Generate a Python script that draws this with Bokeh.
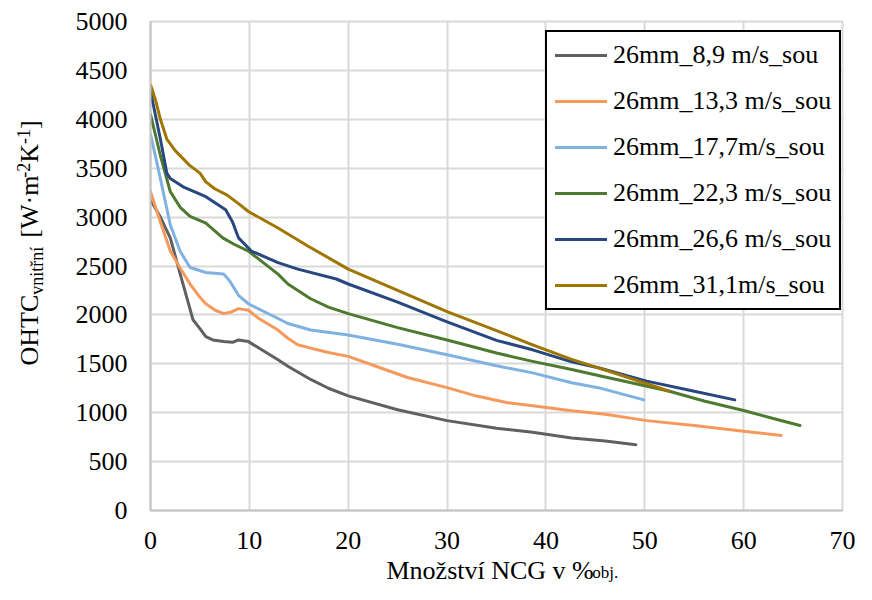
import math
from bokeh.plotting import figure
from bokeh.layouts import row, column
from bokeh.models import Label, Legend, LegendItem, Range1d, SingleIntervalTicker
from bokeh.embed import file_html
from bokeh.resources import INLINE

# ---- data ----
names = ["26mm_8,9 m/s_sou", "26mm_13,3 m/s_sou", "26mm_17,7m/s_sou",
         "26mm_22,3 m/s_sou", "26mm_26,6 m/s_sou", "26mm_31,1m/s_sou"]
colors = ["#606060", "#f59a5c", "#7fb2e0", "#4e7a30", "#27477e", "#9e7600"]

x_89 = [0, 1, 2, 3, 4, 4.3, 5, 5.6, 6.3, 7.4, 8.3, 8.9, 9.9, 12.9, 13.9, 16.2, 18, 20, 25, 30, 35, 38.65, 42.6, 46, 49.1]
y_89 = [3175, 3000, 2788, 2420, 2060, 1950, 1860, 1778, 1744, 1727, 1720, 1744, 1727, 1542, 1475, 1340, 1250, 1172, 1030, 919, 840, 801, 741, 710, 673]

x_133 = [0, 1, 2, 3, 4, 5, 5.6, 6.5, 7.4, 8.2, 8.9, 9.9, 11, 12.9, 13.9, 14.9, 16.2, 18, 20, 22.8, 26, 30, 33, 36, 38.65, 42.6, 46, 50.2, 55, 60, 63.8]
y_133 = [3260, 2950, 2653, 2480, 2316, 2180, 2114, 2050, 2013, 2030, 2064, 2047, 1960, 1845, 1761, 1694, 1660, 1615, 1576, 1475, 1360, 1256, 1170, 1104, 1071, 1020, 985, 919, 870, 810, 768]

x_177 = [0, 1, 2, 3, 4, 5.6, 7.4, 8, 8.9, 9.9, 12.9, 13.9, 16.2, 20, 25, 30, 35, 38.65, 42.6, 45.3, 49.9]
y_177 = [3848, 3394, 2922, 2650, 2485, 2434, 2417, 2350, 2200, 2114, 1963, 1912, 1845, 1795, 1700, 1593, 1480, 1407, 1306, 1256, 1131]

x_223 = [0, 1, 2, 3, 4, 5.6, 6.5, 7.3, 8.5, 9.9, 12.9, 13.9, 16.2, 18, 20, 25, 30, 35, 38.65, 42.6, 45.3, 52.4, 56, 60.1, 63, 65.7]
y_223 = [4050, 3630, 3260, 3100, 3007, 2939, 2860, 2788, 2720, 2653, 2417, 2316, 2165, 2080, 2013, 1870, 1744, 1610, 1525, 1441, 1380, 1222, 1120, 1020, 940, 869]

x_266 = [0, 1, 1.65, 2, 3.3, 5.6, 7.6, 8.3, 8.9, 10.2, 12.9, 14.9, 18.8, 20, 25, 30, 35, 38.65, 42.6, 45.3, 50.2, 55, 59.1]
y_266 = [4286, 3798, 3450, 3394, 3310, 3209, 3074, 2950, 2788, 2653, 2535, 2468, 2367, 2316, 2130, 1929, 1740, 1643, 1520, 1460, 1323, 1220, 1131]

x_311 = [0, 0.5, 1, 1.65, 2.5, 3.96, 5, 5.6, 6.5, 7.76, 9, 9.9, 12.9, 16, 20, 25, 30.06, 35, 38.65, 42.6, 45.3, 48, 52.4]
y_311 = [4353, 4200, 4000, 3798, 3680, 3529, 3450, 3360, 3290, 3225, 3130, 3057, 2889, 2700, 2468, 2250, 2030, 1840, 1694, 1545, 1458, 1370, 1222]

xs = [x_89, x_133, x_177, x_223, x_266, x_311]
ys = [y_89, y_133, y_177, y_223, y_266, y_311]

x_ticks_interval = 10
y_ticks_interval = 500
x_title = "Množství NCG v %"
x_title_sub = "obj."

FONT = "Liberation Serif"
W, H = 856, 584
YT_W = 50          # width of the strip holding the y title
XT_H = 29          # height of the strip holding the x title
PH = H - XT_H      # main figure height

p = figure(width=W - YT_W, height=PH, output_backend="svg", toolbar_location=None,
           x_range=Range1d(0, 70), y_range=Range1d(0, 5000),
           min_border_left=150 - YT_W, min_border_right=14, min_border_top=21,
           min_border_bottom=PH - 510)
p.background_fill_color = "white"
p.border_fill_color = "white"
p.outline_line_color = "#d9d9d9"
p.outline_line_width = 2

p.xaxis.ticker = SingleIntervalTicker(interval=x_ticks_interval)
p.yaxis.ticker = SingleIntervalTicker(interval=y_ticks_interval)
for ax in (p.xaxis, p.yaxis):
    ax.axis_line_color = "#c4c4c4"
    ax.axis_line_width = 2
    ax.major_tick_line_color = None
    ax.minor_tick_line_color = None
    ax.major_label_text_font = FONT
    ax.major_label_text_font_size = "26px"
    ax.major_label_text_color = "#000000"
p.xaxis.major_label_standoff = 15
p.yaxis.major_label_standoff = 17

p.xgrid.grid_line_color = "#d9d9d9"
p.ygrid.grid_line_color = "#d9d9d9"
p.xgrid.grid_line_width = 2
p.ygrid.grid_line_width = 2

renderers = []
for x, y, c in zip(xs, ys, colors):
    r = p.line(x, y, line_width=3, line_color=c, line_join="round", line_cap="round")
    renderers.append(r)

legend = Legend(items=[LegendItem(label=n, renderers=[r]) for n, r in zip(names, renderers)],
                location=(395, 200), margin=0, padding=8, spacing=16,
                label_height=30, glyph_height=30, glyph_width=52, label_standoff=6,
                label_text_font=FONT, label_text_font_size="26px", label_text_color="#000000",
                border_line_color="black", border_line_width=2, border_line_alpha=1.0,
                background_fill_color="white", background_fill_alpha=1.0)
p.add_layout(legend)


def strip(width, height):
    f = figure(width=width, height=height, output_backend="svg", toolbar_location=None,
               x_axis_location=None, y_axis_location=None, min_border=0,
               x_range=Range1d(0, 1), y_range=Range1d(0, 1))
    f.grid.visible = False
    f.outline_line_color = None
    f.background_fill_color = "white"
    f.border_fill_color = "white"
    return f


def lab(f, fh, text, cx, cy, size, angle=0.0):
    # cx, cy: position within the strip figure, measured from its top-left corner
    f.add_layout(Label(x=cx, y=fh - cy, x_units="screen", y_units="screen",
                       text=text, angle=angle, text_font=FONT, text_font_size=f"{size}px",
                       text_color="#000000", text_align="left", text_baseline="alphabetic"))


# ---- y-axis title strip (rotated, reading bottom to top) ----
yfig = strip(YT_W, PH)
M, S = 26, 18
DY = 43            # empirical correction of the rotated labels' placement
cur = 367
# (text, size, baseline x, advance in em, extra gap before)
pieces = [("OHTC", M, 29, 2.722, 0), ("vnitřní", S, 36, 2.667, 0), ("[W·m", M, 29, 2.305, 9),
          ("-2", S, 23, 0.833, 0), ("K", M, 29, 0.722, 0), ("-1", S, 23, 0.833, 0), ("]", M, 29, 0.333, 0)]
for txt, sz, bx, em, gap in pieces:
    cur -= gap
    lab(yfig, PH, txt, bx, cur + DY, sz, math.pi / 2)
    cur -= em * sz

# ---- x-axis title strip ----
xfig = strip(W, XT_H)
lab(xfig, XT_H, x_title, 386, 15, 26)
lab(xfig, XT_H, x_title_sub, 386 + 7.917 * 26, 17, 17)

layout = column(row(yfig, p, spacing=0), xfig, spacing=0)
open("out.html", "w").write(file_html(layout, INLINE))
